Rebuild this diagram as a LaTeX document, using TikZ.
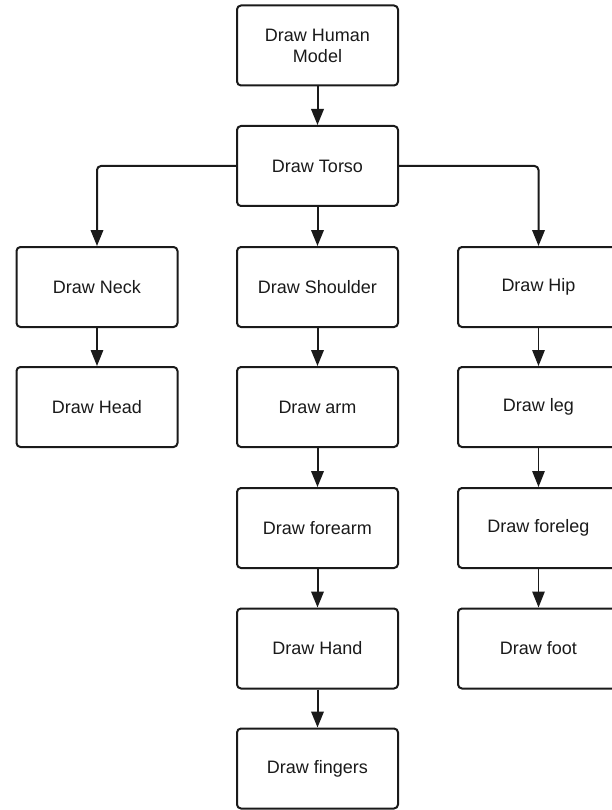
\documentclass[tikz,border=0pt]{standalone}
\usepackage{fontspec}
\setmainfont{Liberation Sans}
\usetikzlibrary{arrows.meta}
\definecolor{ink}{HTML}{1A1A1A}
\tikzset{
  stepbox/.style={draw=ink, line width=2pt, rounded corners=4pt, fill=white,
    minimum width=161pt, minimum height=80pt, align=center, inner sep=0pt,
    font=\fontsize{18}{21}\selectfont, text=ink},
  bigarrow/.style={draw=ink, line width=2pt, -{Triangle[length=16pt,width=12.5pt]}},
  smallarrow/.style={draw=ink, line width=1.3pt, -{Triangle[length=16pt,width=12.5pt]}}
}
\begin{document}
\begin{tikzpicture}[x=1pt,y=-1pt]
\useasboundingbox (0,0) rectangle (612,810);
\clip (0,0) rectangle (612,810);
\fill[white] (0,0) rectangle (612,810);
\node[stepbox] (model) at (317.5,45.5) {Draw Human\\Model};
\node[stepbox] (torso) at (317.5,166) {Draw Torso};
\node[stepbox] (neck) at (97,287) {Draw Neck};
\node[stepbox] (head) at (97,407) {Draw Head};
\node[stepbox] (shoulder) at (317.5,287) {Draw Shoulder};
\node[stepbox] (arm) at (317.5,407) {Draw arm};
\node[stepbox] (forearm) at (317.5,528) {Draw forearm};
\node[stepbox] (hand) at (317.5,648.5) {Draw Hand};
\node[stepbox] (fingers) at (317.5,768.5) {Draw fingers};
\node[stepbox] (hip) at (538.5,287) {Draw Hip};
\node[stepbox] (leg) at (538.5,407) {Draw leg};
\node[stepbox] (foreleg) at (538.5,528) {Draw foreleg};
\node[stepbox] (foot) at (538.5,648.5) {Draw foot};
\draw[bigarrow] (model) -- (torso);
\draw[bigarrow, rounded corners=4pt] (torso.west) -| (neck.north);
\draw[bigarrow, rounded corners=4pt] (torso.east) -| (hip.north);
\draw[bigarrow] (torso) -- (shoulder);
\draw[smallarrow] (neck) -- (head);
\draw[bigarrow] (shoulder) -- (arm);
\draw[bigarrow] (arm) -- (forearm);
\draw[bigarrow] (forearm) -- (hand);
\draw[bigarrow] (hand) -- (fingers);
\draw[smallarrow] (hip) -- (leg);
\draw[smallarrow] (leg) -- (foreleg);
\draw[smallarrow] (foreleg) -- (foot);
\end{tikzpicture}
\end{document}
